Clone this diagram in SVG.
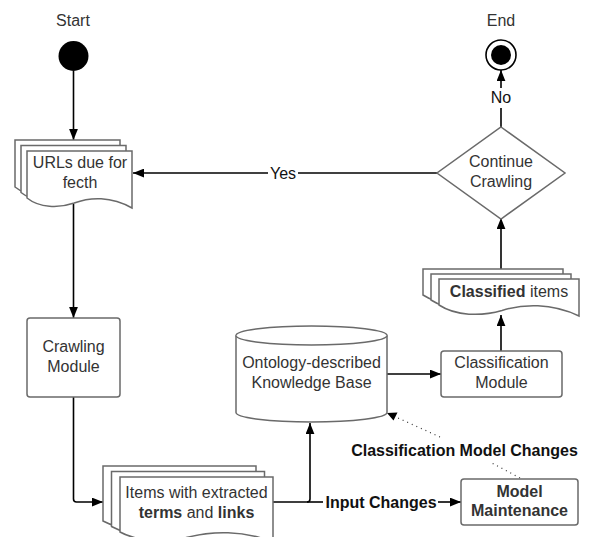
<svg xmlns="http://www.w3.org/2000/svg" xmlns:xlink="http://www.w3.org/1999/xlink" width="589" height="537" viewBox="0 0 589 537">
<defs>
<style>
.shape{fill:#fff;stroke:#6a6a6a;stroke-width:1.5}
.conn{fill:none;stroke:#000;stroke-width:1.6}
.dot{fill:none;stroke:#333;stroke-width:1.2;stroke-dasharray:1 4}
text{font-family:"Liberation Sans",Arial,sans-serif;font-size:16px;fill:#333;text-anchor:middle}
.lbl{fill:#111}
.b{font-weight:bold}
</style>
<marker id="arr" viewBox="0 0 10 8" refX="10" refY="4" markerWidth="11" markerHeight="9" markerUnits="userSpaceOnUse" orient="auto">
<path d="M0,0 L10,4 L0,8 Z" fill="#000"/>
</marker>
<path id="docU" d="M0 0 H105 V57 C84 45 63 46 47.25 52 C31.5 57.5 12.6 57 0 47 Z"/>
<path id="docI" d="M0 0 H153 V65 C122.4 53 91.8 54 68.85 60 C45.9 65.5 18.36 65 0 55 Z"/>
<path id="docC" d="M0 0 H140 V37 C112 23.8 84 24.9 63 31.5 C42 37.55 16.8 37 0 26 Z"/>
</defs>
<rect width="589" height="537" fill="#fff"/>

<g id="connectors">
<path class="conn" d="M73.5 71 V140" marker-end="url(#arr)"/>
<path class="conn" d="M73.5 204 V318" marker-end="url(#arr)"/>
<path class="conn" d="M73.5 397 V499 Q73.5 502 76.5 502 H103" marker-end="url(#arr)"/>
<path class="conn" d="M273 502 H307 Q310 502 310 499 V423" marker-end="url(#arr)"/>
<path class="conn" d="M307 502 H323"/>
<path class="conn" d="M438 502 H461" marker-end="url(#arr)"/>
<path class="conn" d="M387 374 H441" marker-end="url(#arr)"/>
<path class="conn" d="M501 351 V315" marker-end="url(#arr)"/>
<path class="conn" d="M501 269 V218" marker-end="url(#arr)"/>
<path class="conn" d="M501 127 V108"/>
<path class="conn" d="M501 88 V70" marker-end="url(#arr)"/>
<path class="conn" d="M437 173 H298"/>
<path class="conn" d="M268 173 H133" marker-end="url(#arr)"/>
<path class="dot" d="M520 478 L490 462"/>
<path class="dot" d="M440 437 L387 413"/>
<path d="M387 413 L397.5 412.5 L393.5 420.5 Z" fill="#000"/>
<text class="lbl" x="283" y="179">Yes</text>
<text class="lbl" x="501" y="103">No</text>
<text class="lbl b" x="381" y="508">Input Changes</text>
<text class="lbl b" x="464.5" y="456">Classification Model Changes</text>
</g>

<g id="start">
<text x="73" y="26">Start</text>
<circle cx="73.5" cy="56" r="15" fill="#000"/>
</g>

<g id="end">
<text x="501" y="26">End</text>
<circle cx="501" cy="55" r="15" fill="#fff" stroke="#000" stroke-width="1.6"/>
<circle cx="501" cy="55" r="10" fill="#000"/>
</g>

<g id="urls">
<use href="#docU" class="shape" x="15" y="140"/>
<use href="#docU" class="shape" x="21" y="145.5"/>
<use href="#docU" class="shape" x="27" y="151"/>
<text x="80" y="168">URLs due for</text>
<text x="80" y="188">fecth</text>
</g>

<g id="crawling">
<rect class="shape" x="27" y="318" width="93" height="79" rx="3"/>
<text x="73.5" y="352">Crawling</text>
<text x="73.5" y="372">Module</text>
</g>

<g id="items">
<use href="#docI" class="shape" x="103" y="466"/>
<use href="#docI" class="shape" x="111.5" y="471.5"/>
<use href="#docI" class="shape" x="120" y="477"/>
<text x="196.5" y="498">Items with extracted</text>
<text x="196.5" y="518"><tspan class="b">terms</tspan> and <tspan class="b">links</tspan></text>
</g>

<g id="kb">
<path class="shape" d="M236 335.5 A75.5 9.5 0 0 1 387 335.5 V412.5 A75.5 9.5 0 0 1 236 412.5 Z"/>
<path class="shape" fill="none" d="M236 335.5 A75.5 9.5 0 0 0 387 335.5"/>
<text x="311.5" y="368">Ontology-described</text>
<text x="311.5" y="388">Knowledge Base</text>
</g>

<g id="classification">
<rect class="shape" x="441" y="351" width="121" height="46" rx="3"/>
<text x="501.5" y="368">Classification</text>
<text x="501.5" y="388">Module</text>
</g>

<g id="classified">
<use href="#docC" class="shape" x="423" y="269"/>
<use href="#docC" class="shape" x="431" y="274"/>
<use href="#docC" class="shape" x="439" y="279"/>
<text x="509" y="297"><tspan class="b">Classified</tspan> items</text>
</g>

<g id="decision">
<path class="shape" d="M501 127 L565 173 L501 219 L437 173 Z"/>
<text x="501" y="167">Continue</text>
<text x="501" y="187">Crawling</text>
</g>

<g id="maintenance">
<rect class="shape" x="461" y="479" width="117" height="46" rx="3"/>
<text class="b" x="519.5" y="497">Model</text>
<text class="b" x="519.5" y="516">Maintenance</text>
</g>
</svg>
